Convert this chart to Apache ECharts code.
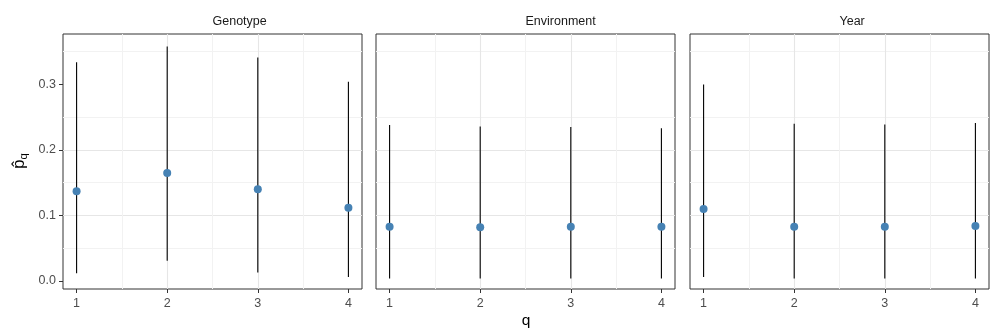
<!DOCTYPE html>
<html>
<head>
<meta charset="utf-8">
<script src="https://cdn.jsdelivr.net/npm/echarts@6/dist/echarts.min.js"></script>
<style>
    html, body { margin: 0; padding: 0; background: #fff; }
    #main { width: 997px; height: 336px; }
</style>
</head>
<body>
<div id="main"></div>
<script>
// facet names and q values
var panelNames = ['Genotype', 'Environment', 'Year'];
var qValues = [1, 2, 3, 4];
var yTickValues = [0, 0.1, 0.2, 0.3];

// estimates with lower / upper interval ends, one set per facet
var genotypeEst = [0.137, 0.165, 0.140, 0.112];
var genotypeLow = [0.012, 0.031, 0.013, 0.006];
var genotypeHigh = [0.334, 0.358, 0.341, 0.304];

var environmentEst = [0.083, 0.082, 0.083, 0.083];
var environmentLow = [0.004, 0.004, 0.004, 0.004];
var environmentHigh = [0.238, 0.236, 0.235, 0.233];

var yearEst = [0.110, 0.083, 0.083, 0.084];
var yearLow = [0.006, 0.004, 0.004, 0.004];
var yearHigh = [0.300, 0.240, 0.239, 0.241];

var panelData = [
    {est: genotypeEst, low: genotypeLow, high: genotypeHigh},
    {est: environmentEst, low: environmentLow, high: environmentHigh},
    {est: yearEst, low: yearLow, high: yearHigh}
];

var chart = echarts.init(document.getElementById('main'));

var panelLeft = [63, 376, 690];
var panelWidth = 299;
var panelTop = 34;
var panelHeight = 255;
var fontFamily = '"Liberation Sans", Arial, sans-serif';

var grids = [], xAxes = [], yAxes = [], series = [], texts = [];

function renderRange(params, api) {
    var top = api.coord([api.value(0), api.value(2)]);
    var bot = api.coord([api.value(0), api.value(1)]);
    return {
        type: 'line',
        shape: {x1: top[0], y1: top[1], x2: bot[0], y2: bot[1]},
        style: {stroke: '#000', lineWidth: 1.1}
    };
}

panelData.forEach(function (p, i) {
    grids.push({
        left: panelLeft[i], top: panelTop, width: panelWidth, height: panelHeight,
        show: true, borderColor: '#333333', borderWidth: 1, backgroundColor: 'transparent',
        containLabel: false
    });
    xAxes.push({
        type: 'value', gridIndex: i, min: 0.85, max: 4.15, splitNumber: 3,
        axisLine: {show: false, onZero: false},
        axisTick: {show: true, length: 4, customValues: qValues, lineStyle: {color: '#333333', width: 1}},
        axisLabel: {customValues: qValues, color: '#4d4d4d', fontSize: 12.5, fontFamily: fontFamily, margin: 8},
        splitLine: {show: true, showMinLine: false, showMaxLine: false, lineStyle: {color: '#e6e6e6', width: 1.1}},
        minorTick: {show: false, splitNumber: 2},
        minorSplitLine: {show: true, lineStyle: {color: '#f2f2f2', width: 1}}
    });
    yAxes.push({
        type: 'value', gridIndex: i, min: -0.0122, max: 0.377, splitNumber: 4,
        axisLine: {show: false, onZero: false},
        axisTick: {show: i === 0, length: 4, customValues: yTickValues, lineStyle: {color: '#333333', width: 1}},
        axisLabel: {
            show: i === 0, customValues: yTickValues, color: '#4d4d4d', fontSize: 12.5,
            fontFamily: fontFamily, margin: 7,
            formatter: function (v) { return v.toFixed(1); }
        },
        splitLine: {show: true, showMinLine: false, showMaxLine: false, lineStyle: {color: '#e6e6e6', width: 1.1}},
        minorTick: {show: false, splitNumber: 2},
        minorSplitLine: {show: true, lineStyle: {color: '#f2f2f2', width: 1}}
    });
    series.push({
        type: 'custom', xAxisIndex: i, yAxisIndex: i,
        renderItem: renderRange,
        encode: {x: 0, y: [1, 2]},
        data: qValues.map(function (q, k) { return [q, p.low[k], p.high[k]]; }),
        z: 3
    });
    series.push({
        type: 'scatter', xAxisIndex: i, yAxisIndex: i,
        symbolSize: 8,
        itemStyle: {color: '#4682b4', opacity: 1},
        data: qValues.map(function (q, k) { return [q, p.est[k]]; }),
        z: 4
    });
    texts.push({
        type: 'text', left: panelLeft[i] + panelWidth / 2, top: 15,
        style: {text: panelNames[i], fill: '#1a1a1a', font: '12.5px ' + fontFamily, textAlign: 'center'}
    });
});

// axis titles
texts.push({
    type: 'text', x: 526, y: 321,
    style: {text: 'q', fill: '#000', font: '15.5px ' + fontFamily, textAlign: 'center', textVerticalAlign: 'middle'}
});
texts.push({
    type: 'text', x: 19, y: 161, rotation: Math.PI / 2,
    style: {
        text: '{p|p\u0302}{s|q}', textAlign: 'center', textVerticalAlign: 'middle', fill: '#000',
        rich: {
            p: {fontSize: 16.5, fontFamily: fontFamily, fill: '#000'},
            s: {fontSize: 11.5, fontFamily: fontFamily, fill: '#000', padding: [9, 0, 0, 0]}
        }
    }
});

var option = {
    animation: false,
    backgroundColor: '#fff',
    grid: grids,
    xAxis: xAxes,
    yAxis: yAxes,
    series: series,
    graphic: texts
};
chart.setOption(option);
</script>
</body>
</html>
